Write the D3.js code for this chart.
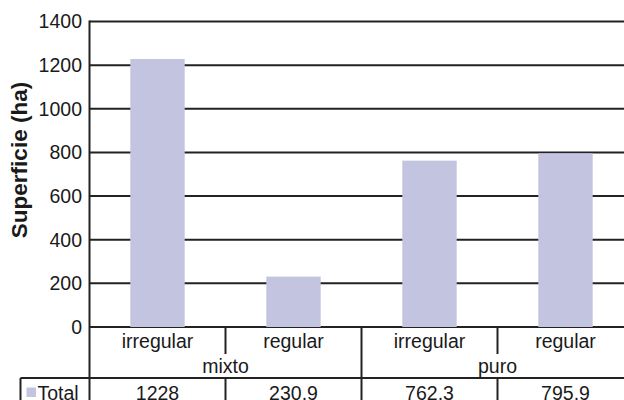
<!DOCTYPE html>
<html><head><meta charset="utf-8">
<script src="https://cdn.jsdelivr.net/npm/d3@7"></script>
<style>body{margin:0;background:#fff}svg{display:block}text{font-family:"Liberation Sans",Arial,sans-serif;fill:#1a1a1a}</style>
</head><body>
<script>
const groups = ["mixto", "puro"];
const subcats = ["irregular", "regular", "irregular", "regular"];
const groupOf = [0, 0, 1, 1];
const values = [1228, 230.9, 762.3, 795.9];
const valueLabels = ["1228", "230.9", "762.3", "795.9"];
const seriesName = "Total";
const yTicks = [0, 200, 400, 600, 800, 1000, 1200, 1400];

(function () {
const W = 624, H = 400;
const plotLeft = 89.5, plotRight = 633.5, plotTop = 21.5, zeroY = 327;
const FS = "19.5px";
const svg = d3.select("body").append("svg").attr("width", W).attr("height", H);

const x = d3.scaleBand().domain(d3.range(values.length)).range([plotLeft, plotRight]).paddingInner(0).paddingOuter(0);
const y = d3.scaleLinear().domain([0, 1400]).range([zeroY, plotTop]);
const barW = x.bandwidth() * 0.4;
const lineCol = "#222";

// gridlines
svg.append("g").selectAll("line").data(yTicks).join("line")
  .attr("x1", plotLeft).attr("x2", W).attr("y1", d => y(d)).attr("y2", d => y(d))
  .attr("stroke", lineCol).attr("stroke-width", 2);

// bars
svg.append("g").selectAll("rect").data(values).join("rect")
  .attr("x", (d, i) => x(i) + (x.bandwidth() - barW) / 2)
  .attr("y", d => y(d)).attr("width", barW).attr("height", d => zeroY - y(d))
  .attr("fill", "#c3c5e0");

// y axis
const yAxis = d3.axisLeft(y).tickValues(yTicks).tickSize(0).tickPadding(7.5).tickFormat(d3.format("d"));
const ga = svg.append("g").attr("transform", `translate(${plotLeft},0)`).call(yAxis);
ga.select(".domain").remove();
ga.selectAll("text").style("font-size", FS).style("font-family", "Liberation Sans, Arial, sans-serif").attr("fill", "#1a1a1a").attr("dy", "0.33em");
svg.append("line").attr("x1", plotLeft).attr("x2", plotLeft).attr("y1", plotTop - 1).attr("y2", H)
  .attr("stroke", lineCol).attr("stroke-width", 2);

// y title
svg.append("text").attr("transform", `translate(27,160) rotate(-90)`)
  .attr("text-anchor", "middle").style("font-size", "22.5px").style("font-weight", "bold")
  .text("Superficie (ha)");

// table structure
const row1 = 353, row2 = 378;
values.forEach((v, i) => {
  if (i === 0) return;
  const xx = x(i);
  const groupBoundary = groupOf[i] !== groupOf[i - 1];
  svg.append("line").attr("x1", xx).attr("x2", xx).attr("y1", zeroY).attr("y2", H)
    .attr("stroke", lineCol).attr("stroke-width", 2);
  if (!groupBoundary) {
    svg.append("line").attr("x1", xx).attr("x2", xx).attr("y1", row1 + 1).attr("y2", row2 - 1)
      .attr("stroke", "#fff").attr("stroke-width", 3);
  }
});
svg.append("line").attr("x1", 20.5).attr("x2", W).attr("y1", row2).attr("y2", row2)
  .attr("stroke", lineCol).attr("stroke-width", 2);
svg.append("line").attr("x1", 20.5).attr("x2", 20.5).attr("y1", row2).attr("y2", H)
  .attr("stroke", lineCol).attr("stroke-width", 2);

// subcategory labels
svg.append("g").selectAll("text").data(subcats).join("text")
  .attr("x", (d, i) => x(i) + x.bandwidth() / 2).attr("y", 347.5)
  .attr("text-anchor", "middle").style("font-size", FS).text(d => d);

// group labels
groups.forEach((g, gi) => {
  const idx = groupOf.map((v, i) => v === gi ? i : -1).filter(i => i >= 0);
  const x0 = x(idx[0]), x1 = x(idx[idx.length - 1]) + x.bandwidth();
  svg.append("text").attr("x", (x0 + x1) / 2).attr("y", 373)
    .attr("text-anchor", "middle").style("font-size", FS).text(g);
});

// values row
svg.append("g").selectAll("text").data(valueLabels).join("text")
  .attr("x", (d, i) => x(i) + x.bandwidth() / 2).attr("y", 399.5)
  .attr("text-anchor", "middle").style("font-size", FS).text(d => d);

// legend key
svg.append("rect").attr("x", 26.5).attr("y", 387.5).attr("width", 9.5).attr("height", 9.5).attr("fill", "#c3c5e0");
svg.append("text").attr("x", 37.5).attr("y", 399.5).style("font-size", FS).text(seriesName);
})();
</script>
</body></html>
